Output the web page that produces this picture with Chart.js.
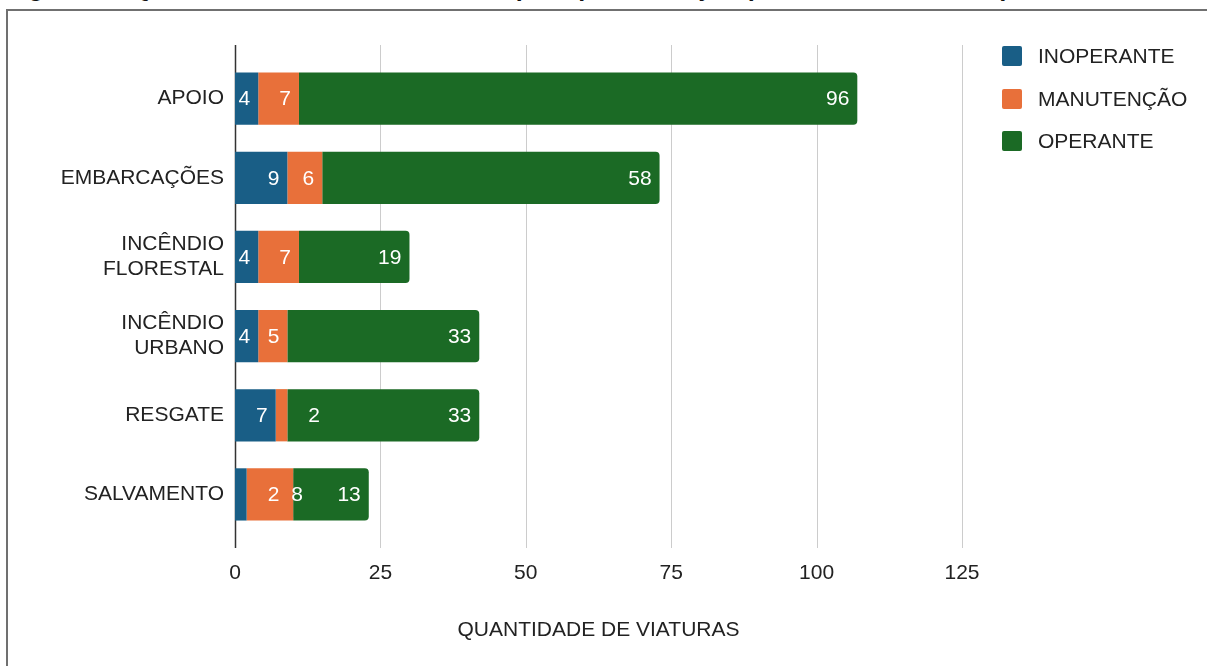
<!DOCTYPE html>
<html>
<head>
<meta charset="utf-8">
<script src="https://cdn.jsdelivr.net/npm/chart.js@4"></script>
<style>
  html, body { margin:0; padding:0; background:#fff; }
  body { width:1207px; height:666px; position:relative; overflow:hidden; font-family:"Liberation Sans", Arial, sans-serif; }
  #title { position:absolute; left:6px; top:-25px; font-size:25px; line-height:25px; font-weight:bold; color:#111; white-space:nowrap; }
  #frame { position:absolute; left:6px; top:9px; width:1400px; height:900px; border:2px solid #707070; box-sizing:border-box; }
  #wrap { position:absolute; left:0; top:0; width:1207px; height:666px; }
  #legend { position:absolute; left:1002px; top:46px; }
  .item { height:42.5px; display:flex; align-items:flex-start; }
  .sw { width:20px; height:20px; border-radius:2px; }
  .lbl { margin-left:16px; font-size:21px; line-height:20px; color:#222; }
</style>
</head>
<body>
<div id="title">Figura 1 – Quantidade de viaturas do CBM por tipo e situação (DEZEMBRO DE 2023)</div>
<div id="frame"></div>
<div id="wrap"><canvas id="chart"></canvas></div>
<div id="legend"></div>
<script>
const categories = [['APOIO'], ['EMBARCAÇÕES'], ['INCÊNDIO', 'FLORESTAL'], ['INCÊNDIO', 'URBANO'], ['RESGATE'], ['SALVAMENTO']];
const seriesNames = ['INOPERANTE', 'MANUTENÇÃO', 'OPERANTE'];
const inoperante = [4, 9, 4, 4, 7, 2];
const manutencao = [7, 6, 7, 5, 2, 8];
const operante   = [96, 58, 19, 33, 33, 13];
const xTicks = [0, 25, 50, 75, 100, 125];
const colors = ['#195e86', '#e8703a', '#1b6a25'];
const FONT = '"Liberation Sans", Arial, sans-serif';

// ── Legend ─────────────────────────────────────────────
document.getElementById('legend').innerHTML = seriesNames.map((n, i) =>
  `<div class="item"><div class="sw" style="background:${colors[i]}"></div><div class="lbl">${n}</div></div>`
).join('');

// vertical grid lines, reaching a bit past the plot area
const gridPlugin = {
  id: 'vgrid',
  beforeDatasetsDraw(chart) {
    const { ctx, chartArea, scales: { x } } = chart;
    ctx.save();
    xTicks.forEach(v => {
      const px = Math.round(x.getPixelForValue(v)) + 0.5;
      ctx.beginPath();
      ctx.strokeStyle = v === 0 ? '#333' : '#cccccc';
      ctx.lineWidth = v === 0 ? 1.5 : 1;
      ctx.moveTo(px, chartArea.top - 14);
      ctx.lineTo(px, chartArea.bottom + 14);
      ctx.stroke();
    });
    ctx.restore();
  }
};

// value labels: right side of each segment, pushed along when they do not fit
const labelPlugin = {
  id: 'vlabels',
  afterDatasetsDraw(chart) {
    const { ctx } = chart;
    ctx.save();
    ctx.font = `21px ${FONT}`;
    ctx.fillStyle = '#fff';
    ctx.textBaseline = 'middle';
    ctx.textAlign = 'left';
    categories.forEach((_, i) => {
      let prevRight = -1e9;
      chart.data.datasets.forEach((ds, d) => {
        const el = chart.getDatasetMeta(d).data[i];
        const txt = String(ds.data[i]);
        const w = ctx.measureText(txt).width;
        const segW = el.x - el.base;
        let left = segW >= w + 10 ? el.x - 8 - w : el.x + 21;
        if (left < prevRight + 12) left = prevRight + 12;
        ctx.fillText(txt, left, el.y + 1);
        prevRight = left + w;
      });
    });
    ctx.restore();
  }
};

new Chart(document.getElementById('chart'), {
  type: 'bar',
  data: {
    labels: categories,
    datasets: [
      { label: seriesNames[0], data: inoperante, backgroundColor: colors[0] },
      { label: seriesNames[1], data: manutencao, backgroundColor: colors[1] },
      { label: seriesNames[2], data: operante,   backgroundColor: colors[2], borderRadius: 4, borderSkipped: 'start' }
    ]
  },
  options: {
    indexAxis: 'y',
    responsive: true, maintainAspectRatio: false, animation: false,
    datasets: { bar: { categoryPercentage: 1, barPercentage: 0.66, borderWidth: 0 } },
    layout: { padding: { left: 0, right: 245, top: 59, bottom: 0 } },
    plugins: { legend: { display: false }, tooltip: { enabled: false } },
    scales: {
      x: {
        stacked: true, min: 0, max: 125,
        afterBuildTicks: s => { s.ticks = xTicks.map(v => ({ value: v })); },
        afterFit: s => { s.height = 132; },
        grid: { display: false, drawTicks: false },
        border: { display: false },
        ticks: { color: '#222', font: { family: FONT, size: 21 }, padding: 27 },
        title: { display: true, text: 'QUANTIDADE DE VIATURAS', color: '#222',
                 font: { family: FONT, size: 21 }, padding: { top: 0, bottom: 23 } }
      },
      y: {
        stacked: true,
        afterFit: s => { s.width = 235; },
        grid: { display: false, drawTicks: false },
        border: { display: false },
        ticks: { color: '#222', font: { family: FONT, size: 21, lineHeight: 1.2 }, padding: 11 }
      }
    }
  },
  plugins: [gridPlugin, labelPlugin]
});
</script>
</body>
</html>
